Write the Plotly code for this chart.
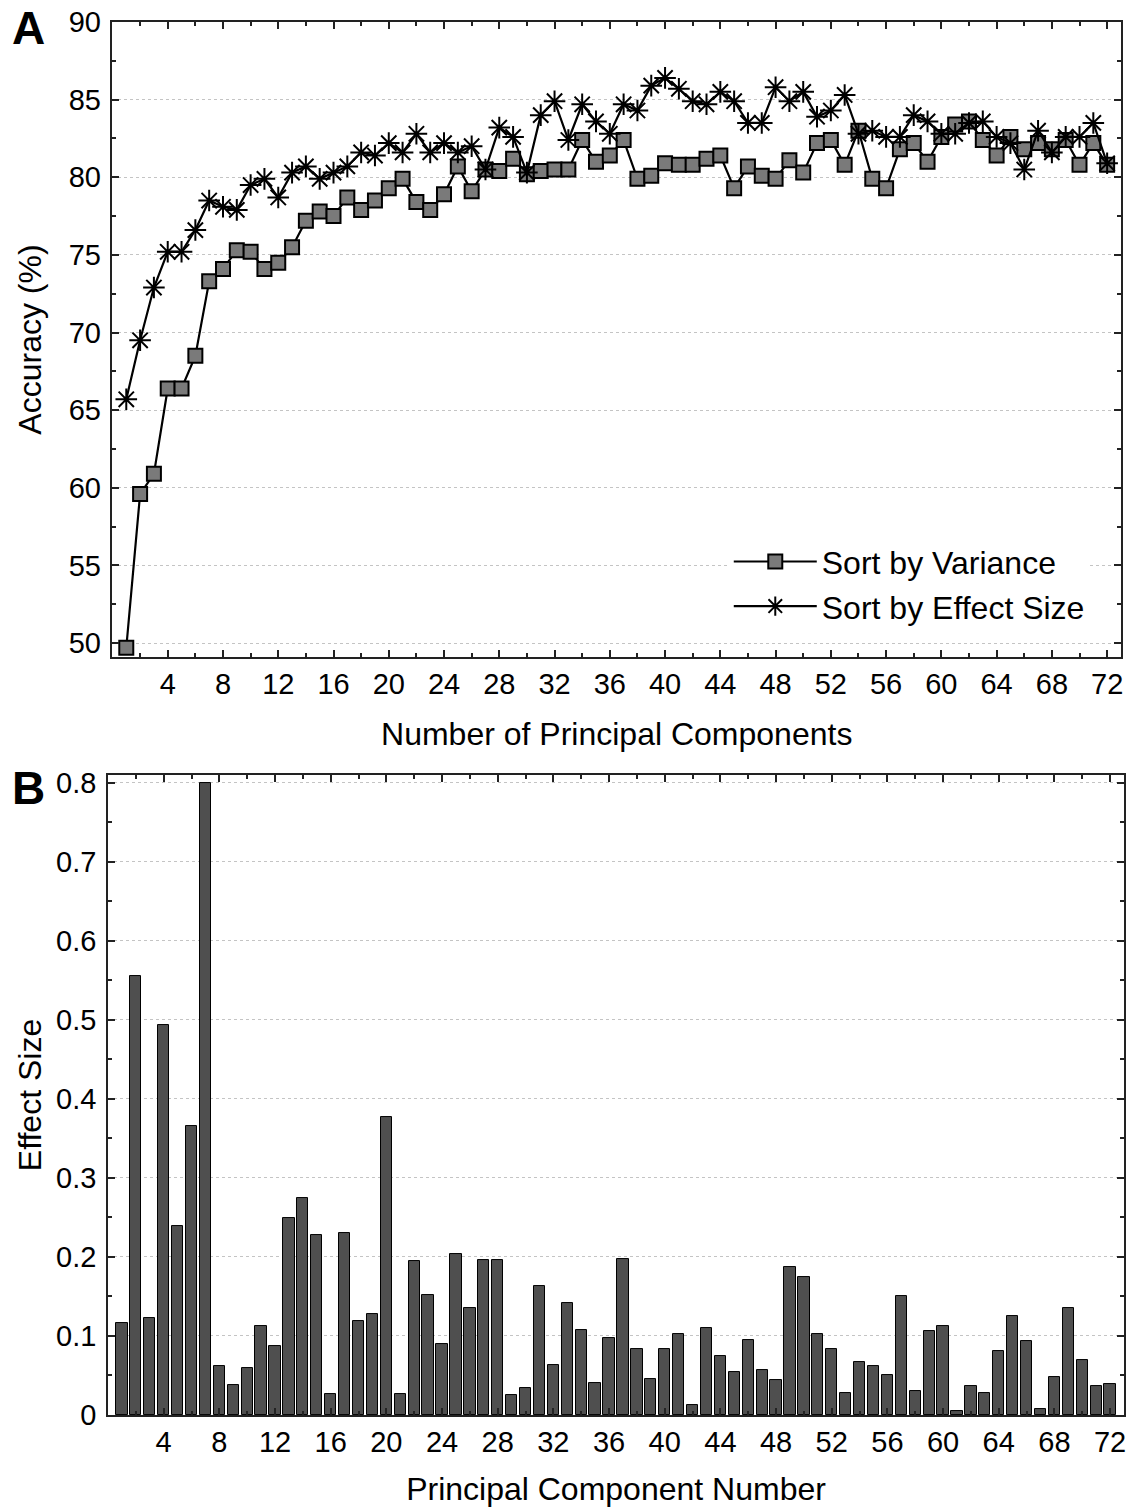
import plotly.graph_objects as go

# ---------------- data ----------------
n_components = list(range(1, 73))

acc_variance = [49.7, 59.6, 60.9, 66.4, 66.4, 68.5, 73.3, 74.1, 75.3, 75.2,
                74.1, 74.5, 75.5, 77.2, 77.8, 77.5, 78.7, 77.9, 78.5, 79.3,
                79.9, 78.4, 77.9, 78.9, 80.7, 79.1, 80.5, 80.4, 81.2, 80.2,
                80.4, 80.5, 80.5, 82.4, 81.0, 81.4, 82.4, 79.9, 80.1, 80.9,
                80.8, 80.8, 81.2, 81.4, 79.3, 80.7, 80.1, 79.9, 81.1, 80.3,
                82.2, 82.4, 80.8, 83.0, 79.9, 79.3, 81.8, 82.2, 81.0, 82.6,
                83.4, 83.6, 82.4, 81.4, 82.6, 81.8, 82.2, 81.8, 82.4, 80.8,
                82.2, 80.8]

acc_effect = [65.7, 69.5, 72.9, 75.2, 75.2, 76.6, 78.5, 78.1, 77.9, 79.5,
              79.9, 78.7, 80.3, 80.7, 79.9, 80.3, 80.7, 81.6, 81.4, 82.2,
              81.6, 82.8, 81.6, 82.2, 81.6, 82.0, 80.5, 83.2, 82.6, 80.3,
              84.0, 84.9, 82.4, 84.7, 83.6, 82.8, 84.7, 84.3, 85.9, 86.4,
              85.7, 84.9, 84.7, 85.5, 84.9, 83.5, 83.5, 85.8, 84.9, 85.5,
              83.9, 84.3, 85.3, 82.8, 83.0, 82.6, 82.6, 84.0, 83.6, 82.8,
              82.8, 83.5, 83.6, 82.6, 82.2, 80.5, 83.0, 81.6, 82.6, 82.6,
              83.5, 80.9]

effect_size = [0.117, 0.556, 0.123, 0.494, 0.239, 0.366, 0.800, 0.062, 0.038, 0.059,
               0.112, 0.087, 0.249, 0.275, 0.228, 0.027, 0.230, 0.119, 0.128, 0.377,
               0.026, 0.195, 0.152, 0.090, 0.204, 0.135, 0.196, 0.196, 0.025, 0.034,
               0.163, 0.063, 0.142, 0.108, 0.041, 0.098, 0.198, 0.084, 0.045, 0.084,
               0.102, 0.012, 0.110, 0.074, 0.054, 0.095, 0.057, 0.044, 0.187, 0.175,
               0.102, 0.083, 0.028, 0.067, 0.062, 0.050, 0.151, 0.030, 0.106, 0.112,
               0.005, 0.037, 0.028, 0.081, 0.125, 0.093, 0.008, 0.048, 0.136, 0.070,
               0.037, 0.039]

x_tickvals = list(range(4, 73, 4))
x_minor_vals = list(range(2, 73, 4))
accA_tickvals = [50, 55, 60, 65, 70, 75, 80, 85, 90]
accA_minor = [52.5, 57.5, 62.5, 67.5, 72.5, 77.5, 82.5, 87.5]
esB_tickvals = [0, 0.1, 0.2, 0.3, 0.4, 0.5, 0.6, 0.7, 0.8]
esB_minor = [0.05, 0.15, 0.25, 0.35, 0.45, 0.55, 0.65, 0.75]

FONT = "Liberation Sans, Arial, Helvetica, sans-serif"

fig = go.Figure()

fig.add_trace(go.Scatter(
    x=n_components, y=acc_variance, name="Sort by Variance",
    mode="lines+markers",
    line=dict(color="black", width=2.2),
    marker=dict(symbol="square", size=14, color="#7a7a7a",
                line=dict(color="black", width=2)),
    xaxis="x", yaxis="y"))

fig.add_trace(go.Scatter(
    x=n_components, y=acc_effect, name="Sort by Effect Size",
    mode="lines+markers",
    line=dict(color="black", width=2.2),
    marker=dict(symbol="asterisk-open", size=18, color="black",
                line=dict(color="black", width=2)),
    xaxis="x", yaxis="y"))

fig.add_trace(go.Bar(
    x=n_components, y=effect_size, width=0.81,
    marker=dict(color="#4f4f4f", line=dict(color="black", width=1)),
    showlegend=False, xaxis="x2", yaxis="y2"))

axis_common = dict(
    showline=True, linecolor="#222222", linewidth=1.5, mirror="allticks",
    ticks="inside", ticklen=7, tickwidth=1.5, tickcolor="#222222",
    tickfont=dict(size=29, color="black", family=FONT),
    zeroline=False,
)
minor_common = dict(ticks="inside", ticklen=4, tickwidth=1.5, tickcolor="#222222")

fig.update_layout(
    width=1131, height=1507,
    paper_bgcolor="white", plot_bgcolor="white",
    margin=dict(l=108, r=5, t=22, b=92),
    font=dict(family=FONT, color="black"),
    xaxis=dict(domain=[0.0044, 0.997], range=[0, 73], anchor="y",
               tickvals=x_tickvals, showgrid=False,
               minor=dict(tickvals=x_minor_vals, **minor_common),
               ticklabelstandoff=0,
               title=dict(text="Number of Principal Components",
                          font=dict(size=32), standoff=24),
               **axis_common),
    yaxis=dict(domain=[0.5441, 1.0], range=[49.1, 90], anchor="x",
               tickvals=accA_tickvals, showgrid=True, gridcolor="#c4c4c4",
               griddash="dot", gridwidth=1,
               minor=dict(tickvals=accA_minor, **minor_common),
               ticklabelstandoff=4,
               title=dict(text="Accuracy (%)", font=dict(size=32), standoff=17),
               **axis_common),
    xaxis2=dict(domain=[0.0, 1.0], range=[0, 73], anchor="y2",
                tickvals=x_tickvals, showgrid=False,
                minor=dict(tickvals=x_minor_vals, **minor_common),
                ticklabelstandoff=0,
                title=dict(text="Principal Component Number",
                           font=dict(size=32), standoff=22),
                **axis_common),
    yaxis2=dict(domain=[0.0, 0.4594], range=[0, 0.81], anchor="x2",
                tickvals=esB_tickvals, showgrid=True, gridcolor="#c4c4c4",
                griddash="dot", gridwidth=1,
                minor=dict(tickvals=esB_minor, **minor_common),
                ticklabelstandoff=4,
                title=dict(text="Effect Size", font=dict(size=32), standoff=5),
                **axis_common),
    legend=dict(x=0.611, xanchor="left", y=0.6323, yanchor="top",
                bgcolor="white", borderwidth=0,
                font=dict(size=32, color="black", family=FONT),
                itemwidth=83, tracegroupgap=0),
    showlegend=True,
    bargap=0,
)

fig.add_annotation(text="<b>A</b>", x=-0.0786, y=0.9957, xref="paper", yref="paper",
                   showarrow=False, font=dict(size=46, family=FONT, color="black"),
                   xanchor="center", yanchor="middle")
fig.add_annotation(text="<b>B</b>", x=-0.0786, y=0.450, xref="paper", yref="paper",
                   showarrow=False, font=dict(size=46, family=FONT, color="black"),
                   xanchor="center", yanchor="middle")

fig.write_html("out.html",
               config={"displayModeBar": False},
               post_script="document.body.style.margin='0';document.body.style.overflow='hidden';")
